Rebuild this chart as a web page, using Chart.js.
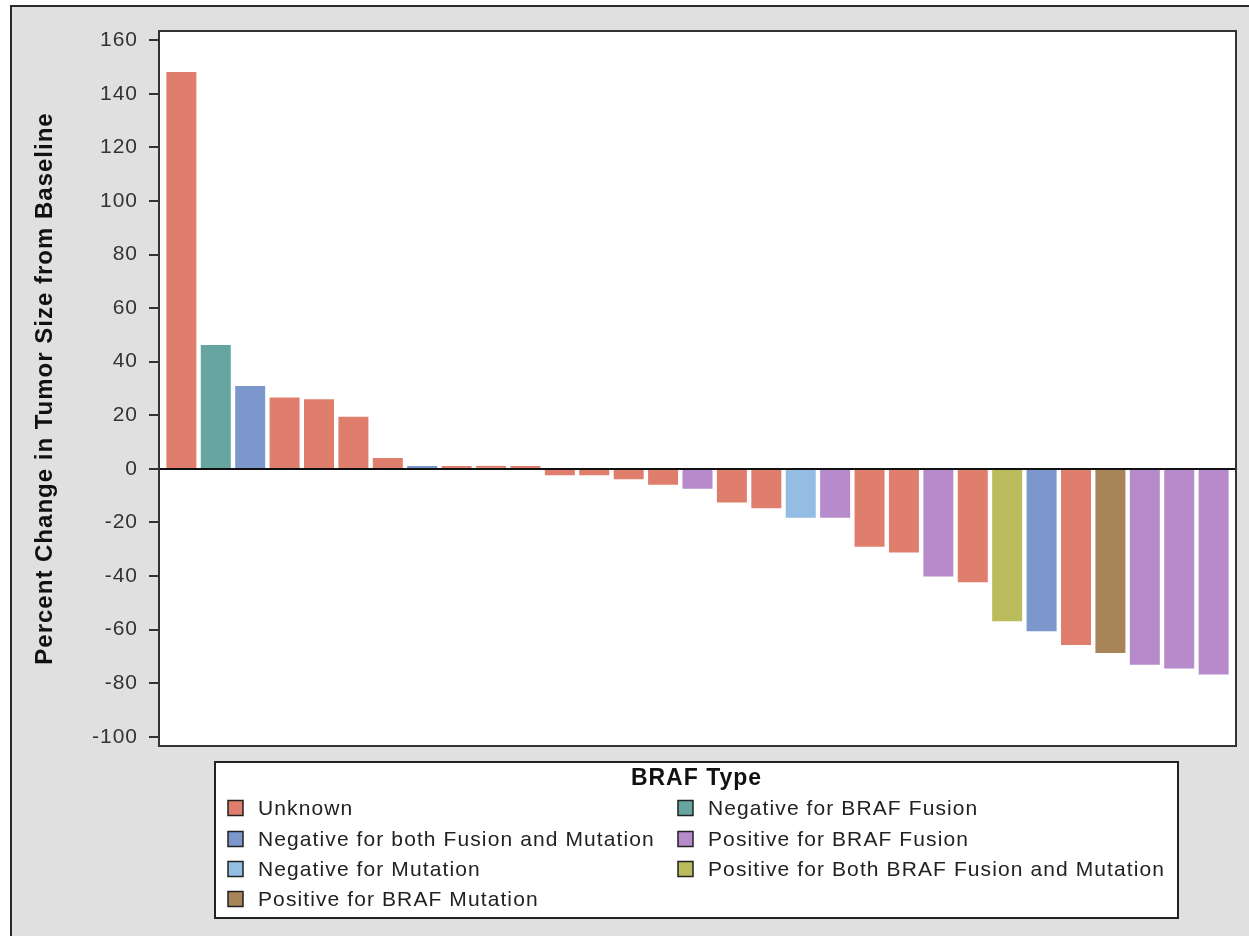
<!DOCTYPE html>
<html>
<head>
<meta charset="utf-8">
<title>BRAF Waterfall</title>
<script src="https://cdn.jsdelivr.net/npm/chart.js@4.4.0/dist/chart.umd.min.js"></script>
<style>
    html, body { margin: 0; padding: 0; background: #fff; }
    #wrap { position: relative; width: 1249px; height: 936px; }
</style>
</head>
<body>
<div id="wrap"><canvas id="waterfallChart"></canvas></div>
<script>
// Percent change per patient, sorted high to low
const changes = [148.5, 46.6, 31.3, 27.0, 26.4, 19.8, 4.4, 1.5, 1.5, 1.5, 1.5,
    -2.7, -2.7, -4.2, -6.3, -7.8, -12.9, -15.1, -18.6, -18.6, -29.4, -31.6,
    -40.5, -42.7, -57.2, -61.0, -66.1, -69.1, -73.5, -74.9, -77.1];

// BRAF type of each bar (index into brafTypes)
const barTypes = [0, 1, 2, 0, 0, 0, 0, 2, 0, 0, 0,
    0, 0, 0, 0, 3, 0, 0, 4, 3, 0, 0,
    3, 0, 5, 2, 0, 6, 3, 3, 3];

const brafTypes = [
    'Unknown',
    'Negative for BRAF Fusion',
    'Negative for both Fusion and Mutation',
    'Positive for BRAF Fusion',
    'Negative for Mutation',
    'Positive for Both BRAF Fusion and Mutation',
    'Positive for BRAF Mutation'
];

const typeColors = ['#E07E6D', '#67A6A0', '#7B97CC', '#B68ACB', '#94BDE3', '#BABB5A', '#A88459'];

const yTicks = [-100, -80, -60, -40, -20, 0, 20, 40, 60, 80, 100, 120, 140, 160];

// grey page frame + white plot background
const framePlugin = {
    id: 'frame',
    beforeDraw(chart) {
        const ctx = chart.ctx;
        const a = chart.chartArea;
        ctx.fillStyle = '#fff';
        ctx.fillRect(0, 0, chart.width, chart.height);
        ctx.fillStyle = '#E0E0E0';
        ctx.fillRect(10, 5, chart.width, chart.height);
        ctx.strokeStyle = '#2a2a2a';
        ctx.lineWidth = 2;
        ctx.strokeRect(11, 6, chart.width + 10, chart.height + 10);
        ctx.fillStyle = '#fff';
        ctx.fillRect(a.left, a.top, a.right - a.left, a.bottom - a.top);
        ctx.letterSpacing = '1px';
    },
    afterDatasetsDraw(chart) {
        const ctx = chart.ctx;
        const a = chart.chartArea;
        const y0 = chart.scales.y.getPixelForValue(0);
        ctx.save();
        ctx.strokeStyle = '#111';
        ctx.lineWidth = 2;
        ctx.beginPath();
        ctx.moveTo(a.left, y0);
        ctx.lineTo(a.right, y0);
        ctx.stroke();
        ctx.strokeStyle = '#333';
        ctx.strokeRect(a.left, a.top, a.right - a.left, a.bottom - a.top);
        ctx.restore();
    }
};

// two-column legend box under the plot
const legendBoxPlugin = {
    id: 'legendBox',
    afterDraw(chart) {
        const ctx = chart.ctx;
        const box = { left: 215, top: 762, right: 1178, bottom: 918 };
        ctx.save();
        ctx.fillStyle = '#fff';
        ctx.fillRect(box.left, box.top, box.right - box.left, box.bottom - box.top);
        ctx.strokeStyle = '#222';
        ctx.lineWidth = 2;
        ctx.strokeRect(box.left, box.top, box.right - box.left, box.bottom - box.top);

        ctx.letterSpacing = '1px';
        ctx.fillStyle = '#111';
        ctx.textBaseline = 'middle';
        ctx.textAlign = 'center';
        ctx.font = 'bold 23px "Liberation Sans", Arial, sans-serif';
        ctx.fillText('BRAF Type', (box.left + box.right) / 2, 779);

        ctx.textAlign = 'left';
        ctx.font = '21px "Liberation Sans", Arial, sans-serif';
        ctx.letterSpacing = '1.1px';
        const colX = [228, 678];
        const rowY = [808, 839, 869, 899];
        chart.data.datasets.forEach((ds, i) => {
            const x = colX[i % 2];
            const y = rowY[Math.floor(i / 2)];
            ctx.fillStyle = ds.backgroundColor;
            ctx.fillRect(x, y - 7.5, 15, 15);
            ctx.strokeStyle = '#222';
            ctx.lineWidth = 1.5;
            ctx.strokeRect(x, y - 7.5, 15, 15);
            ctx.fillStyle = '#222';
            ctx.fillText(ds.label, x + 30, y + 1);
        });
        ctx.restore();
    }
};

function initializeWaterfallChart() {
    const ctx = document.getElementById('waterfallChart').getContext('2d');

    const datasets = brafTypes.map((name, t) => ({
        label: name,
        data: changes
            .map((v, i) => ({ x: i, y: v }))
            .filter((p, i) => barTypes[i] === t),
        backgroundColor: typeColors[t],
        borderColor: 'rgba(255, 255, 255, 0.35)',
        borderWidth: 1,
        grouped: false,
        barPercentage: 0.93,
        categoryPercentage: 1
    }));

    const config = {
        type: 'bar',
        data: { datasets: datasets },
        options: {
            responsive: true,
            maintainAspectRatio: false,
            animation: false,
            layout: {
                padding: { left: 0, top: 31, right: 13, bottom: 190 }
            },
            plugins: {
                legend: { display: false },
                tooltip: { enabled: false }
            },
            scales: {
                x: {
                    type: 'linear',
                    display: false,
                    offset: false,
                    min: -0.65,
                    max: changes.length - 0.35
                },
                y: {
                    min: -103.4,
                    max: 163.4,
                    afterBuildTicks: (scale) => {
                        scale.ticks = yTicks.map(v => ({ value: v }));
                    },
                    afterFit: (scale) => {
                        scale.width = 159;
                    },
                    border: { display: false },
                    grid: {
                        drawOnChartArea: false,
                        drawTicks: true,
                        tickLength: 10,
                        color: '#333',
                        lineWidth: 2
                    },
                    ticks: {
                        color: '#333',
                        padding: 11,
                        font: { family: '"Liberation Sans", Arial, sans-serif', size: 21 }
                    },
                    title: {
                        display: true,
                        text: 'Percent Change in Tumor Size from Baseline',
                        color: '#111',
                        padding: { top: 31, bottom: 0 },
                        font: { family: '"Liberation Sans", Arial, sans-serif', size: 24, weight: 'bold' }
                    }
                }
            }
        },
        plugins: [framePlugin, legendBoxPlugin]
    };

    new Chart(ctx, config);
}

document.addEventListener('DOMContentLoaded', initializeWaterfallChart);
</script>
</body>
</html>
